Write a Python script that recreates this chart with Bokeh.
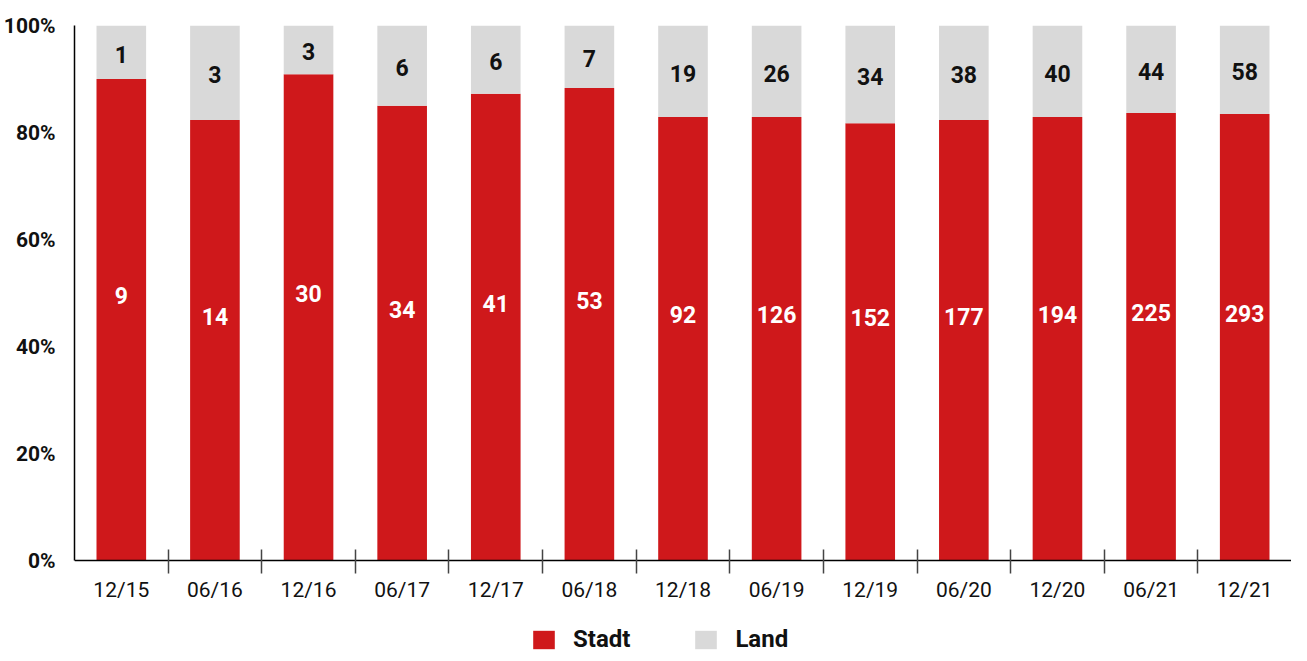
from bokeh.plotting import figure
from bokeh.models import Range1d, FixedTicker, Legend, LegendItem, ColumnDataSource
from bokeh.core.properties import value
from bokeh.embed import file_html
from bokeh.resources import INLINE

periods = ["12/15", "06/16", "12/16", "06/17", "12/17", "06/18", "12/18",
           "06/19", "12/19", "06/20", "12/20", "06/21", "12/21"]
stadt = [9, 14, 30, 34, 41, 53, 92, 126, 152, 177, 194, 225, 293]
land = [1, 3, 3, 6, 6, 7, 19, 26, 34, 38, 40, 44, 58]
y_ticks = [0, 20, 40, 60, 80, 100]
y_tick_labels = ["0%", "20%", "40%", "60%", "80%", "100%"]

RED = "#CF181B"
GREY = "#D9D9D9"
FONT = "Roboto"

xs = list(range(len(periods)))
tot = [s + l for s, l in zip(stadt, land)]
stadt_pct = [100.0 * s / t for s, t in zip(stadt, tot)]
land_pct = [100.0 * l / t for l, t in zip(land, tot)]

src = ColumnDataSource(dict(
    x=xs, stadt_pct=stadt_pct, land_pct=land_pct,
    stadt_mid=[p / 2 for p in stadt_pct],
    land_mid=[p + (100 - p) / 2 for p in stadt_pct],
    stadt_lbl=[str(v) for v in stadt], land_lbl=[str(v) for v in land],
))

# layout: frame top at 25 px, value 0 at 560 px, canvas bottom at 653 px
FRAME_TOP, ZERO_PX, CANVAS_H = 25, 560, 653
px_per_unit = (ZERO_PX - FRAME_TOP) / 100.0
y_min = -(CANVAS_H - ZERO_PX) / px_per_unit

p = figure(width=1291, height=CANVAS_H, output_backend="svg", toolbar_location=None,
           x_range=Range1d(-0.5, len(periods) - 0.5), y_range=Range1d(y_min, 100),
           min_border_left=68, min_border_top=FRAME_TOP, min_border_right=0,
           min_border_bottom=0)
p.outline_line_color = None
p.grid.grid_line_color = None
p.background_fill_color = "white"

r = p.vbar_stack(["stadt_pct", "land_pct"], x="x", width=0.53, color=[RED, GREY],
                 line_color=None, source=src)

p.text(x="x", y="stadt_mid", text="stadt_lbl", source=src, text_align="center",
       text_baseline="middle", y_offset=-24, text_color="white",
       text_font=value(FONT), text_font_size="23px", text_font_style="bold")
p.text(x="x", y="land_mid", text="land_lbl", source=src, text_align="center",
       text_baseline="middle", y_offset=2, text_color="#111111",
       text_font=value(FONT), text_font_size="23px", text_font_style="bold")

# y axis
ya = p.yaxis[0]
ya.ticker = FixedTicker(ticks=y_ticks)
ya.bounds = (0, 100)
ya.major_label_overrides = {t: l for t, l in zip(y_ticks, y_tick_labels)}
ya.major_tick_line_color = None
ya.minor_tick_line_color = None
ya.axis_line_color = "black"
ya.axis_line_width = 1.5
ya.major_label_text_font = FONT
ya.major_label_text_font_size = "21px"
ya.major_label_text_font_style = "bold"
ya.major_label_text_color = "#111111"
ya.major_label_standoff = 13

# x axis drawn at value 0
xa = p.xaxis[0]
xa.fixed_location = 0
xa.ticker = FixedTicker(ticks=xs, minor_ticks=[i + 0.5 for i in xs[:-1]])
xa.major_label_overrides = {i: s for i, s in zip(xs, periods)}
xa.major_tick_line_color = None
xa.minor_tick_line_color = "#444444"
xa.minor_tick_line_width = 1.5
xa.minor_tick_in = 11
xa.minor_tick_out = 13
xa.axis_line_color = "black"
xa.axis_line_width = 1.5
xa.major_label_text_font = FONT
xa.major_label_text_font_size = "21px"
xa.major_label_text_color = "#111111"
xa.major_label_standoff = 4

legend = Legend(items=[LegendItem(label="Stadt", renderers=[r[0]]),
                       LegendItem(label="Land", renderers=[r[1]])],
                orientation="horizontal", location=(456, 0),
                glyph_width=27, glyph_height=23, label_standoff=16, spacing=62,
                padding=0, margin=0, border_line_color=None,
                background_fill_alpha=0,
                label_text_font=FONT, label_text_font_size="24px",
                label_text_font_style="bold", label_text_color="#111111",
                label_height=23)
p.add_layout(legend, "center")

open("out.html", "w").write(file_html(p, INLINE))
